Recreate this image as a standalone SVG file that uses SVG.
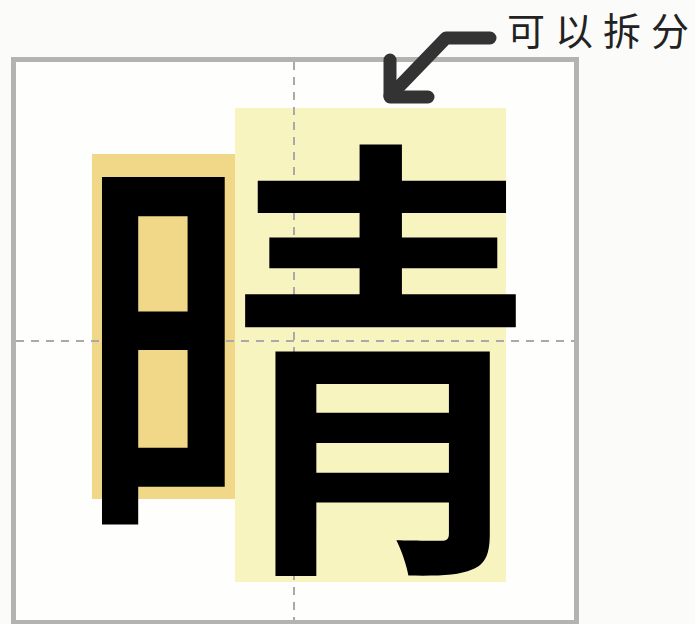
<svg xmlns="http://www.w3.org/2000/svg" width="695" height="624" viewBox="0 0 695 624">
<style>
.guide{stroke:#a9a9a9;stroke-width:2;stroke-dasharray:8 7;fill:none}
.cjk{font-family:"Noto Sans CJK SC","Noto Sans CJK JP",sans-serif}
</style>
<rect x="0" y="0" width="695" height="624" fill="#fbfbf9"/>
<g id="frame">
<rect x="13.5" y="59.5" width="563" height="563" fill="#fefefd" stroke="#b3b3b3" stroke-width="5"/>
</g>
<g id="part-ri"><rect x="92" y="154" width="143" height="345" fill="#f0d888"/></g>
<g id="part-qing"><rect x="235" y="108" width="271" height="474" fill="#f8f4c0"/></g>
<g id="guides">
<line class="guide" x1="294" y1="62" x2="294" y2="620"/>
<line class="guide" x1="16" y1="341" x2="574" y2="341"/>
</g>
<g id="char"><text class="cjk" x="301" y="537" font-size="465" font-weight="500" text-anchor="middle" fill="#000">晴</text></g>
<g id="connectors">
<polyline points="490,38 446,38 390,96" fill="none" stroke="#333" stroke-width="13" stroke-linecap="round" stroke-linejoin="round"/>
<polyline points="390,60 390,97 428,97" fill="none" stroke="#333" stroke-width="13" stroke-linecap="round" stroke-linejoin="round"/>
</g>
<g id="label"><text class="cjk" x="507 555 603 651" y="45" font-size="38" fill="#222">可以拆分</text></g>
</svg>
